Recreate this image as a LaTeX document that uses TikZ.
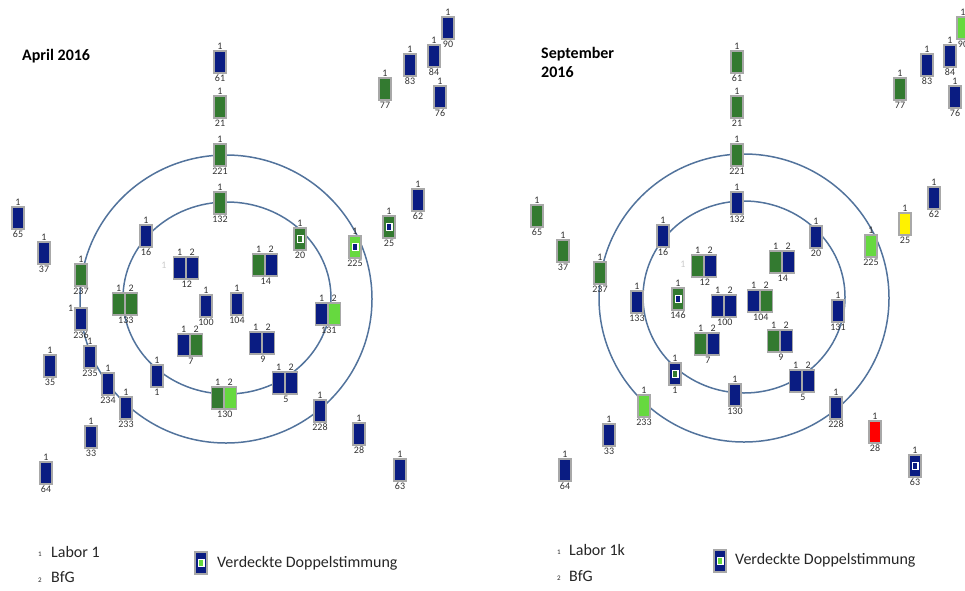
\documentclass[tikz,border=0pt]{standalone}
\usepackage{fontspec}
\setmainfont{Carlito}
\usepackage{tikz}
\usetikzlibrary{positioning}
\definecolor{dunkelblau}{HTML}{0A1C82}
\definecolor{dunkelgruen}{HTML}{337A30}
\definecolor{hellgruen}{HTML}{66D93F}
\definecolor{rand}{HTML}{A8A8A8}
\definecolor{ringblau}{HTML}{52739C}
\definecolor{schrift}{HTML}{333333}
\tikzset{
	fach/.style={rectangle,draw=rand,line width=1.6pt,minimum width=12.5pt,minimum height=22.5pt,inner sep=0pt},
	blau/.style={fach,fill=dunkelblau},
	gruen/.style={fach,fill=dunkelgruen},
	hell/.style={fach,fill=hellgruen},
	gelb/.style={fach,fill=yellow},
	rot/.style={fach,fill=red},
	kern/.style={rectangle,draw=white,line width=1.5pt,minimum width=5.5pt,minimum height=7pt,inner sep=0pt},
	ziffer/.style={font=\fontsize{10}{11}\selectfont,text=schrift,inner sep=0.5pt},
	blass/.style={ziffer,text=black!20},
	ring/.style={draw=ringblau,line width=1.5pt},
	titel/.style={font=\fontsize{16}{19}\selectfont\bfseries,inner sep=0pt,align=left},
	legende/.style={font=\fontsize{16}{18}\selectfont,text=black!85,inner sep=0pt},
	klein/.style={font=\fontsize{7}{8}\selectfont,text=black!85,inner sep=0pt}
}

\begin{document}
\begin{tikzpicture}[x=1pt,y=-1pt]
	\useasboundingbox (0,0) rectangle (965,590);
	% April 2016
	\node[titel,anchor=west] (atitel) at (22,56) {April 2016};
	\draw[ring] (226,299) ellipse [x radius=146pt, y radius=144pt];
	\draw[ring] (227,298) ellipse [x radius=104pt, y radius=96pt];
	\node[blau,label={[ziffer]above:1},label={[ziffer]below:61}] (a61) at (220,62) {};
	\node[gruen,label={[ziffer]above:1},label={[ziffer]below:21}] (a21) at (220,107) {};
	\node[gruen,label={[ziffer]above:1},label={[ziffer]below:221}] (a221) at (220,155) {};
	\node[gruen,label={[ziffer]above:1},label={[ziffer]below:132}] (a132) at (220,203) {};
	\node[blau,label={[ziffer]above:1},label={[ziffer]below:65}] (a65) at (18,218) {};
	\node[blau,label={[ziffer]above:1},label={[ziffer]below:37}] (a37) at (44,253) {};
	\node[blau,label={[ziffer]above:1},label={[ziffer]below:16}] (a16) at (146,236) {};
	\node[gruen,label={[ziffer]above:1},label={[ziffer]below:77}] (a77) at (385,89) {};
	\node[blau,label={[ziffer]above:1},label={[ziffer]below:83}] (a83) at (410,65) {};
	\node[blau,label={[ziffer]above:1},label={[ziffer]below:84}] (a84) at (434,56) {};
	\node[blau,label={[ziffer]above:1},label={[ziffer]below:90}] (a90) at (448,28) {};
	\node[blau,label={[ziffer]above:1},label={[ziffer]below:76}] (a76) at (440,97) {};
	\node[blau,label={[ziffer]above:1},label={[ziffer]below:62}] (a62) at (418,200) {};
	\node[gruen,label={[ziffer]above:1},label={[ziffer]below:25}] (a25) at (389,227) {};
	\node[kern,fill=dunkelblau] (a25k) at (a25) {};
	\node[gruen,label={[ziffer]above:1},label={[ziffer]below:20}] (a20) at (300,239) {};
	\node[kern,fill=dunkelgruen] (a20k) at (a20) {};
	\node[hell,label={[ziffer]above:1},label={[ziffer]below:225}] (a225) at (355,247) {};
	\node[kern,fill=dunkelblau] (a225k) at (a225) {};
	\node[blau,label={[ziffer]above:1},label={[ziffer]below:100}] (a100) at (206,306) {};
	\node[blau,label={[ziffer]above:1},label={[ziffer]below:104}] (a104) at (237,304) {};
	\node[blau,label={[ziffer]above:1},label={[ziffer]below:1}] (a1) at (157,376) {};
	\node[blau,label={[ziffer]above:1},label={[ziffer]below:228}] (a228) at (320,411) {};
	\node[blau,label={[ziffer]above:1},label={[ziffer]below:28}] (a28) at (359,434) {};
	\node[blau,label={[ziffer]above:1},label={[ziffer]below:63}] (a63) at (400,470) {};
	\node[gruen,label={[ziffer]above:1},label={[ziffer]below:237}] (a237) at (81,275) {};
	\node[blau,label={[ziffer]above left:1},label={[ziffer]below:236}] (a236) at (81,319) {};
	\node[blau,label={[ziffer]above:1},label={[ziffer]below:235}] (a235) at (90,357) {};
	\node[blau,label={[ziffer]above:1},label={[ziffer]below:234}] (a234) at (108,384) {};
	\node[blau,label={[ziffer]above:1},label={[ziffer]below:233}] (a233) at (126,408) {};
	\node[blau,label={[ziffer]above:1},label={[ziffer]below:35}] (a35) at (50,366) {};
	\node[blau,label={[ziffer]above:1},label={[ziffer]below:33}] (a33) at (91,437) {};
	\node[blau,label={[ziffer]above:1},label={[ziffer]below:64}] (a64) at (46,473) {};
	% doppelt
	\node[blass] (a12x) at (164,265) {1};
	\node[blau,label={[ziffer]above:1}] (a12l) at (179.75,268) {};
	\node[blau,right=-1.6pt of a12l,label={[ziffer]above:2}] (a12r) {};
	\node[ziffer,below=0pt of a12l.south east] (a12n) {12};
	\node[gruen,label={[ziffer]above:1}] (a14l) at (258.75,265) {};
	\node[blau,right=-1.6pt of a14l,label={[ziffer]above:2}] (a14r) {};
	\node[ziffer,below=0pt of a14l.south east] (a14n) {14};
	\node[gruen,label={[ziffer]above:1}] (a133l) at (118.75,304) {};
	\node[gruen,right=-1.6pt of a133l,label={[ziffer]above:2}] (a133r) {};
	\node[ziffer,below=0pt of a133l.south east] (a133n) {133};
	\node[blau,label={[ziffer]above:1}] (a131l) at (321.75,314) {};
	\node[hell,right=-1.6pt of a131l,label={[ziffer]above:2}] (a131r) {};
	\node[ziffer,below=0pt of a131l.south east] (a131n) {131};
	\node[blau,label={[ziffer]above:1}] (a7l) at (183.75,345) {};
	\node[gruen,right=-1.6pt of a7l,label={[ziffer]above:2}] (a7r) {};
	\node[ziffer,below=0pt of a7l.south east] (a7n) {7};
	\node[blau,label={[ziffer]above:1}] (a9l) at (255.75,343) {};
	\node[blau,right=-1.6pt of a9l,label={[ziffer]above:2}] (a9r) {};
	\node[ziffer,below=0pt of a9l.south east] (a9n) {9};
	\node[gruen,label={[ziffer]above:1}] (a130l) at (217.75,398) {};
	\node[hell,right=-1.6pt of a130l,label={[ziffer]above:2}] (a130r) {};
	\node[ziffer,below=0pt of a130l.south east] (a130n) {130};
	\node[blau,label={[ziffer]above:1}] (a5l) at (278.75,383) {};
	\node[blau,right=-1.6pt of a5l,label={[ziffer]above:2}] (a5r) {};
	\node[ziffer,below=0pt of a5l.south east] (a5n) {5};
	% Legende links
	\node[klein] (al1) at (40,554) {1};
	\node[legende,anchor=west] (alabor) at (51,552) {Labor 1};
	\node[klein] (al2) at (40,580) {2};
	\node[legende,anchor=west] (abfg) at (51,577) {BfG};
	\node[blau] (aicon) at (201,563) {};
	\node[kern,fill=hellgruen] (aiconk) at (aicon) {};
	\node[legende,anchor=west] (averd) at (217,563) {Verdeckte Doppelstimmung};

	% September 2016
	\node[titel,anchor=north west] (btitel) at (541,47) {September\\2016};
	\draw[ring] (744,298) ellipse [x radius=145pt, y radius=144pt];
	\draw[ring] (744,297) ellipse [x radius=101pt, y radius=96pt];
	\node[gruen,label={[ziffer]above:1},label={[ziffer]below:61}] (b61) at (737,62) {};
	\node[gruen,label={[ziffer]above:1},label={[ziffer]below:21}] (b21) at (737,107) {};
	\node[gruen,label={[ziffer]above:1},label={[ziffer]below:221}] (b221) at (737,155) {};
	\node[blau,label={[ziffer]above:1},label={[ziffer]below:132}] (b132) at (737,203) {};
	\node[gruen,label={[ziffer]above:1},label={[ziffer]below:77}] (b77) at (900,89) {};
	\node[blau,label={[ziffer]above:1},label={[ziffer]below:83}] (b83) at (927,65) {};
	\node[blau,label={[ziffer]above:1},label={[ziffer]below:84}] (b84) at (950,56) {};
	\node[hell,label={[ziffer]above:1},label={[ziffer]below:90}] (b90) at (963,28) {};
	\node[blau,label={[ziffer]above:1},label={[ziffer]below:76}] (b76) at (955,97) {};
	\node[blau,label={[ziffer]above:1},label={[ziffer]below:62}] (b62) at (934,198) {};
	\node[gelb,label={[ziffer]above:1},label={[ziffer]below:25}] (b25) at (905,224) {};
	\node[hell,label={[ziffer]above:1},label={[ziffer]below:225}] (b225) at (871,246) {};
	\node[blau,label={[ziffer]above:1},label={[ziffer]below:20}] (b20) at (816,237) {};
	\node[blau,label={[ziffer]above:1},label={[ziffer]below:16}] (b16) at (663,236) {};
	\node[blau,label={[ziffer]above:1},label={[ziffer]below:133}] (b133) at (637,302) {};
	\node[gruen,label={[ziffer]above:1},label={[ziffer]below:146}] (b146) at (678,299) {};
	\node[kern,fill=dunkelblau] (b146k) at (b146) {};
	\node[blau,label={[ziffer]above:1},label={[ziffer]below:131}] (b131) at (838,311) {};
	\node[blau,label={[ziffer]above:1},label={[ziffer]below:1}] (b1) at (675,374) {};
	\node[kern,fill=dunkelgruen] (b1k) at (b1) {};
	\node[blau,label={[ziffer]above:1},label={[ziffer]below:130}] (b130) at (735,395) {};
	\node[blau,label={[ziffer]above:1},label={[ziffer]below:228}] (b228) at (836,408) {};
	\node[rot,label={[ziffer]above:1},label={[ziffer]below:28}] (b28) at (875,432) {};
	\node[blau,label={[ziffer]above:1},label={[ziffer]below:63}] (b63) at (915,466) {};
	\node[kern,fill=dunkelblau] (b63k) at (b63) {};
	\node[gruen,label={[ziffer]above:1},label={[ziffer]below:237}] (b237) at (600,273) {};
	\node[gruen,label={[ziffer]above:1},label={[ziffer]below:37}] (b37) at (563,251) {};
	\node[gruen,label={[ziffer]above:1},label={[ziffer]below:65}] (b65) at (537,216) {};
	\node[hell,label={[ziffer]above:1},label={[ziffer]below:233}] (b233) at (644,406) {};
	\node[blau,label={[ziffer]above:1},label={[ziffer]below:33}] (b33) at (609,435) {};
	\node[blau,label={[ziffer]above:1},label={[ziffer]below:64}] (b64) at (565,470) {};
	% doppelt
	\node[blass] (b12x) at (683,264) {1};
	\node[gruen,label={[ziffer]above:1}] (b12l) at (697.75,266) {};
	\node[blau,right=-1.6pt of b12l,label={[ziffer]above:2}] (b12r) {};
	\node[ziffer,below=0pt of b12l.south east] (b12n) {12};
	\node[gruen,label={[ziffer]above:1}] (b14l) at (775.75,262) {};
	\node[blau,right=-1.6pt of b14l,label={[ziffer]above:2}] (b14r) {};
	\node[ziffer,below=0pt of b14l.south east] (b14n) {14};
	\node[blau,label={[ziffer]above:1}] (b100l) at (717.75,306) {};
	\node[blau,right=-1.6pt of b100l,label={[ziffer]above:2}] (b100r) {};
	\node[ziffer,below=0pt of b100l.south east] (b100n) {100};
	\node[blau,label={[ziffer]above:1}] (b104l) at (753.75,301) {};
	\node[gruen,right=-1.6pt of b104l,label={[ziffer]above:2}] (b104r) {};
	\node[ziffer,below=0pt of b104l.south east] (b104n) {104};
	\node[gruen,label={[ziffer]above:1}] (b7l) at (700.75,344) {};
	\node[blau,right=-1.6pt of b7l,label={[ziffer]above:2}] (b7r) {};
	\node[ziffer,below=0pt of b7l.south east] (b7n) {7};
	\node[gruen,label={[ziffer]above:1}] (b9l) at (773.75,341) {};
	\node[blau,right=-1.6pt of b9l,label={[ziffer]above:2}] (b9r) {};
	\node[ziffer,below=0pt of b9l.south east] (b9n) {9};
	\node[blau,label={[ziffer]above:1}] (b5l) at (795.75,381) {};
	\node[blau,right=-1.6pt of b5l,label={[ziffer]above:2}] (b5r) {};
	\node[ziffer,below=0pt of b5l.south east] (b5n) {5};
	% Legende rechts
	\node[klein] (bl1) at (559,552) {1};
	\node[legende,anchor=west] (blabor) at (569,550) {Labor 1k};
	\node[klein] (bl2) at (559,578) {2};
	\node[legende,anchor=west] (bbfg) at (569,576) {BfG};
	\node[blau] (bicon) at (720,561) {};
	\node[kern,fill=hellgruen] (biconk) at (bicon) {};
	\node[legende,anchor=west] (bverd) at (735,560) {Verdeckte Doppelstimmung};
\end{tikzpicture}
\end{document}
